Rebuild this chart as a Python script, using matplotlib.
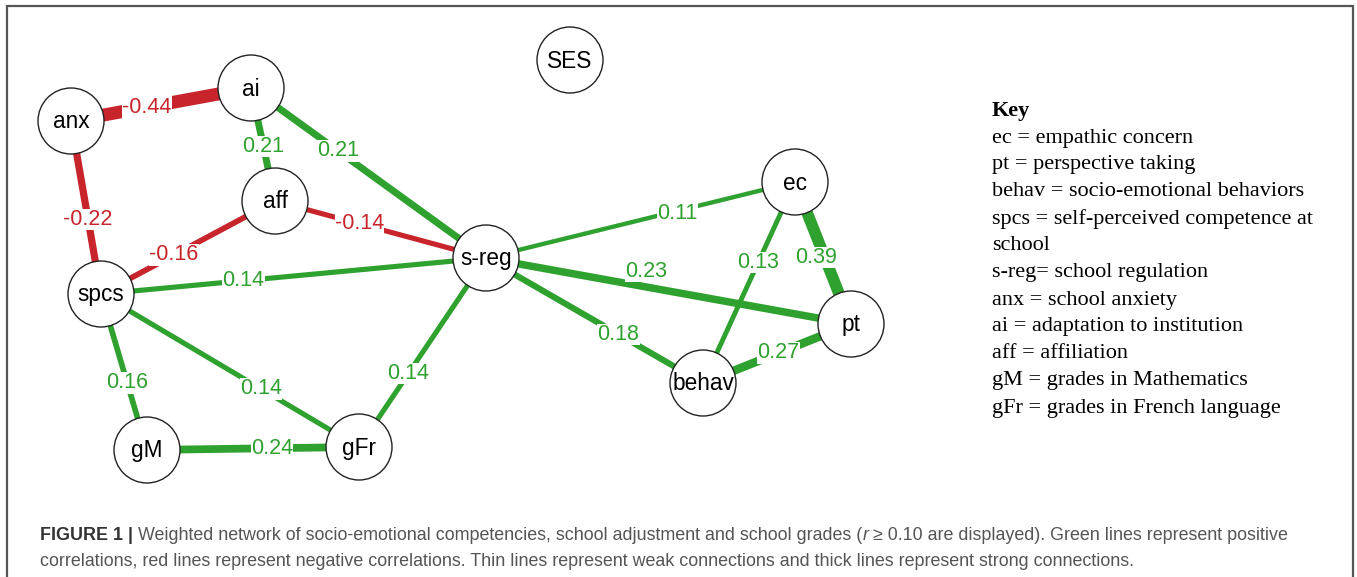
import matplotlib.pyplot as plt
from matplotlib.patches import Circle
import numpy as np

# network data (partial correlations shown in the figure)
nodes = ['anx', 'ai', 'aff', 'spcs', 's-reg', 'gM', 'gFr', 'ec', 'pt', 'behav', 'SES']
edge_from = ['anx', 'ai', 'ai', 'anx', 'aff', 'aff', 'spcs', 'spcs', 'spcs', 'gM', 'gFr', 's-reg', 's-reg', 's-reg', 'ec', 'ec', 'behav']
edge_to = ['ai', 'aff', 's-reg', 'spcs', 'spcs', 's-reg', 's-reg', 'gM', 'gFr', 'gFr', 's-reg', 'ec', 'pt', 'behav', 'behav', 'pt', 'pt']
weights = [-0.44, 0.21, 0.21, -0.22, -0.16, -0.14, 0.14, 0.16, 0.14, 0.24, 0.14, 0.11, 0.23, 0.18, 0.13, 0.39, 0.27]

key_lines = ['ec = empathic concern', 'pt = perspective taking', 'behav = socio-emotional behaviors',
             'spcs = self-perceived competence at', 'school', 's-reg= school regulation',
             'anx = school anxiety', 'ai = adaptation to institution', 'aff = affiliation',
             'gM = grades in Mathematics', 'gFr = grades in French language']

# layout of the nodes (pixel space of the figure)
layout = {'anx': (71, 121), 'ai': (251, 88), 'aff': (275, 201), 'spcs': (101, 294),
          's-reg': (486, 258), 'gM': (147, 450), 'gFr': (359, 447), 'ec': (795, 182),
          'pt': (851, 324), 'behav': (703, 383), 'SES': (570, 60)}
# where along each edge the label sits, plus small nudges
label_t = [0.42, 0.52, 0.37, 0.57, 0.58, 0.40, 0.37, 0.57, 0.62, 0.59, 0.39, 0.62, 0.44, 0.61, 0.40, 0.53, 0.51]
label_nudge = {11: (0, 3), 12: (0, -16), 15: (-9, 0)}

GREEN = '#2ea12e'
RED = '#c8242b'
W, H = 1357, 577
sans = ['Liberation Sans', 'DejaVu Sans']

fig = plt.figure(figsize=(W / 100, H / 100), dpi=100)
ax = fig.add_axes([0, 0, 1, 1])
ax.set_xlim(0, W)
ax.set_ylim(H, 0)
ax.axis('off')

# outer frame
ax.plot([7, 7, 1353, 1353], [H + 5, 6, 6, H + 5], color='#555555', lw=1.6, solid_joinstyle='miter')

order = np.argsort(np.abs(weights))
for i in order:
    w = weights[i]
    x0, y0 = layout[edge_from[i]]
    x1, y1 = layout[edge_to[i]]
    col = GREEN if w > 0 else RED
    ax.plot([x0, x1], [y0, y1], color=col, lw=(1.5 + 26 * abs(w)) * 0.72, solid_capstyle='butt', zorder=2)

for i in order:
    w = weights[i]
    x0, y0 = layout[edge_from[i]]
    x1, y1 = layout[edge_to[i]]
    t = label_t[i]
    dx, dy = label_nudge.get(i, (0, 0))
    col = GREEN if w > 0 else RED
    ax.text(x0 + t * (x1 - x0) + dx, y0 + t * (y1 - y0) + dy, '%.2f' % w, color=col,
            fontsize=15.5, ha='center', va='center', zorder=3, family=sans,
            bbox=dict(facecolor='white', edgecolor='none', pad=0.2))

for n in nodes:
    x, y = layout[n]
    ax.add_patch(Circle((x, y), 33, facecolor='white', edgecolor='#222222', lw=1.0, zorder=4))
    ax.text(x, y + 1, n, fontsize=16.3, ha='center', va='center', zorder=5, family=sans)

# key
ax.text(992, 111, 'Key', fontsize=16, fontweight='bold', family='Liberation Serif', va='center')
for k, line in enumerate(key_lines):
    ax.text(992, 138 + 27 * k, line, fontsize=16, family='Liberation Serif', va='center')

# caption
t1 = ax.text(40, 540, 'FIGURE 1 |', fontsize=12.9, fontweight='bold', color='#333333', family=sans)
t2 = ax.annotate(' Weighted network of socio-emotional competencies, school adjustment and school grades (',
                 xy=(1, 0), xycoords=t1, va='bottom', fontsize=12.9, color='#555555', family=sans)
t3 = ax.annotate('r', xy=(1, 0), xycoords=t2, va='bottom', fontsize=12.9, color='#555555',
                 style='italic', family=sans)
ax.annotate(' \u2265 0.10 are displayed). Green lines represent positive', xy=(1, 0), xycoords=t3,
            va='bottom', fontsize=12.9, color='#555555', family=sans)
ax.text(40, 566, 'correlations, red lines represent negative correlations. Thin lines represent weak connections '
        'and thick lines represent strong connections.', fontsize=12.9, color='#555555', family=sans)

fig.savefig('out.png', dpi=100)
